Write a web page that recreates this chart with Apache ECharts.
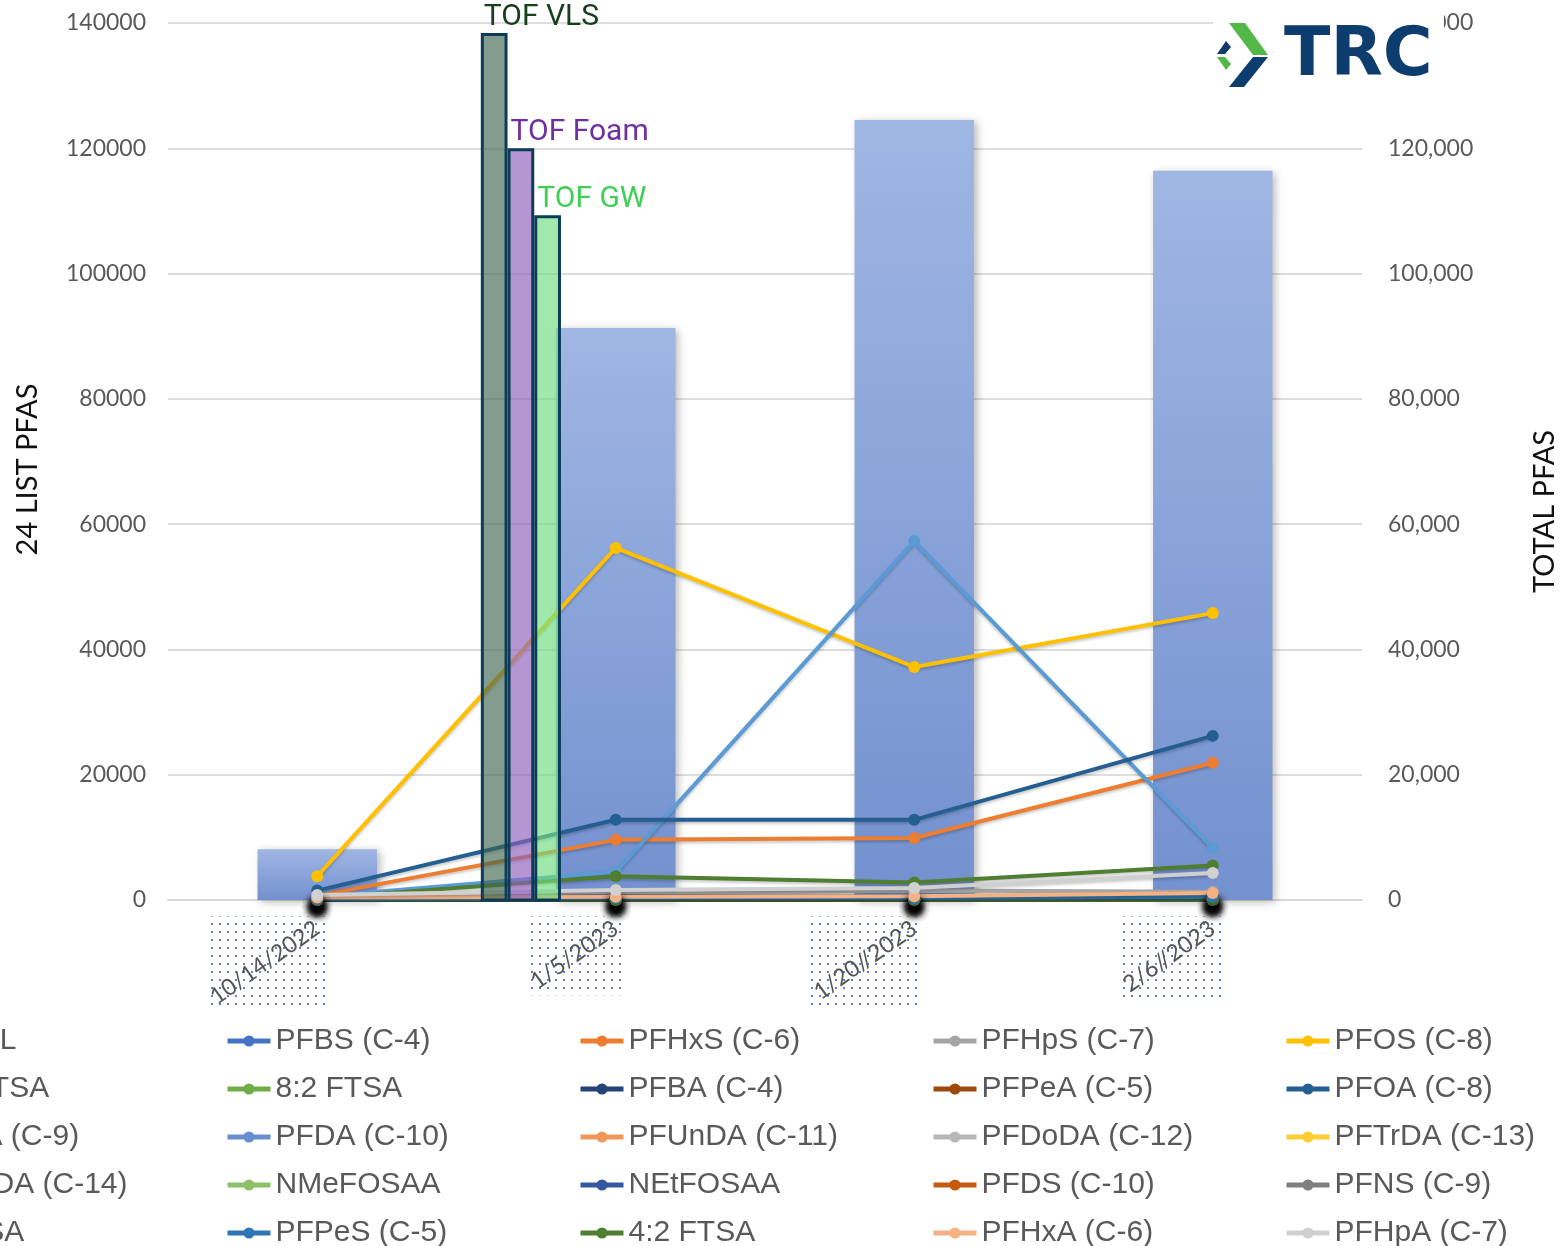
<!DOCTYPE html>
<html>
<head>
<meta charset="utf-8">
<title>24 LIST PFAS / TOTAL PFAS</title>
<script src="https://cdn.jsdelivr.net/npm/echarts@6/dist/echarts.min.js"></script>
<style>
  html, body { margin: 0; padding: 0; background: #ffffff; }
  #chart { width: 1562px; height: 1246px; }
</style>
</head>
<body>
<div id="chart"></div>
<script>
// ---- sampling dates ----
const dates = ['10/14/2022', '1/5/2023', '1/20//2023', '2/6//2023'];

// ---- TOTAL PFAS (bars, right axis) ----
const totalPfas = [8100, 91300, 124500, 116400];

// ---- 24 list PFAS (lines, left axis) ----
const pfbs     = [150, 500, 400, 800];
const pfhxs    = [700, 9600, 9900, 21900];
const pfhps    = [100, 900, 1500, 1300];
const pfos     = [3800, 56200, 37200, 45800];
const ftsa62   = [500, 4500, 57300, 8300];
const ftsa82   = [0, 150, 100, 150];
const pfba     = [150, 600, 500, 900];
const pfpea    = [100, 400, 300, 600];
const pfoa     = [1500, 12800, 12800, 26200];
const pfna     = [50, 200, 150, 300];
const pfda     = [20, 100, 80, 150];
const pfunda   = [0, 20, 10, 30];
const pfdoda   = [0, 10, 10, 20];
const pftrda   = [0, 0, 0, 10];
const pfteda   = [0, 0, 0, 0];
const nmefosaa = [0, 30, 20, 40];
const netfosaa = [0, 20, 20, 30];
const pfds     = [0, 10, 0, 20];
const pfns     = [0, 0, 0, 10];
const pfosa    = [0, 40, 30, 60];
const pfpes    = [100, 300, 300, 500];
const ftsa42   = [300, 3800, 2800, 5500];
const pfhxa    = [400, 500, 600, 1100];
const pfhpa    = [800, 1600, 1900, 4300];

// ---- TOF measurements ----
const tofNames  = ['TOF VLS', 'TOF Foam', 'TOF GW'];
const tofValues = [138400, 120000, 109300];
const tofDate   = '1/5/2023';

// ---- axis tick values ----
const leftTicks  = [0, 20000, 40000, 60000, 80000, 100000, 120000, 140000];
const rightTicks = [0, 20000, 40000, 60000, 80000, 100000, 120000, 140000];

// series in legend (row) order
const lineSeries = [
  ['PFBS (C-4)', pfbs], ['PFHxS (C-6)', pfhxs], ['PFHpS (C-7)', pfhps], ['PFOS (C-8)', pfos],
  ['6:2 FTSA', ftsa62], ['8:2 FTSA', ftsa82], ['PFBA (C-4)', pfba], ['PFPeA (C-5)', pfpea], ['PFOA (C-8)', pfoa],
  ['PFNA (C-9)', pfna], ['PFDA (C-10)', pfda], ['PFUnDA (C-11)', pfunda], ['PFDoDA (C-12)', pfdoda], ['PFTrDA (C-13)', pftrda],
  ['PFTeDA (C-14)', pfteda], ['NMeFOSAA', nmefosaa], ['NEtFOSAA', netfosaa], ['PFDS (C-10)', pfds], ['PFNS (C-9)', pfns],
  ['PFOSA', pfosa], ['PFPeS (C-5)', pfpes], ['4:2 FTSA', ftsa42], ['PFHxA (C-6)', pfhxa], ['PFHpA (C-7)', pfhpa]
];

const palette = {
  'PFBS (C-4)': '#4472C4', 'PFHxS (C-6)': '#ED7D31', 'PFHpS (C-7)': '#A5A5A5', 'PFOS (C-8)': '#FFC000',
  '6:2 FTSA': '#5B9BD5', '8:2 FTSA': '#70AD47', 'PFBA (C-4)': '#264478', 'PFPeA (C-5)': '#9E480E',
  'PFOA (C-8)': '#255E91', 'PFNA (C-9)': '#636363', 'PFDA (C-10)': '#698ED0', 'PFUnDA (C-11)': '#F1975A',
  'PFDoDA (C-12)': '#B7B7B7', 'PFTrDA (C-13)': '#FFCD33', 'PFTeDA (C-14)': '#997300', 'NMeFOSAA': '#8CC168',
  'NEtFOSAA': '#335AA1', 'PFDS (C-10)': '#C55A11', 'PFNS (C-9)': '#7F7F7F', 'PFOSA': '#43682B',
  'PFPeS (C-5)': '#2E75B6', '4:2 FTSA': '#4F7E31', 'PFHxA (C-6)': '#F4B183', 'PFHpA (C-7)': '#D0D0D0'
};

const legendColumns = [
  ['TOTAL', '6:2 FTSA', 'PFNA (C-9)', 'PFTeDA (C-14)', 'PFOSA'],
  ['PFBS (C-4)', '8:2 FTSA', 'PFDA (C-10)', 'NMeFOSAA', 'PFPeS (C-5)'],
  ['PFHxS (C-6)', 'PFBA (C-4)', 'PFUnDA (C-11)', 'NEtFOSAA', '4:2 FTSA'],
  ['PFHpS (C-7)', 'PFPeA (C-5)', 'PFDoDA (C-12)', 'PFDS (C-10)', 'PFHxA (C-6)'],
  ['PFOS (C-8)', 'PFOA (C-8)', 'PFTrDA (C-13)', 'PFNS (C-9)', 'PFHpA (C-7)']
];

// ---- styling constants ----
const GRID = { left: 168, right: 200, top: 23, bottom: 346, outerBoundsMode: 'none', containLabel: false };
const LABEL_FONT = 'Lato';
const X_LABEL_SIZE = 23;
const X_LABEL_ROTATE = 35;
const X_LABEL_MARGIN = 26;
const tofFills = ['rgba(62,100,76,0.64)', 'rgba(142,96,186,0.66)', 'rgba(112,222,126,0.66)'];
const tofTextColors = ['#17401C', '#7030A0', '#3FCF55'];

// dotted fill used behind the date labels
function dotPattern() {
  const c = document.createElement('canvas');
  c.width = 8; c.height = 8;
  const g = c.getContext('2d');
  g.fillStyle = '#5A80D0';
  g.fillRect(3, 3, 2, 2);
  return c;
}
const dots = dotPattern();

const measureCtx = document.createElement('canvas').getContext('2d');
function textWidth(s, font) {
  measureCtx.font = font;
  return measureCtx.measureText(s).width;
}

const chart = echarts.init(document.getElementById('chart'), null, { renderer: 'canvas' });

const series = [];

// TOTAL PFAS columns
series.push({
  name: 'TOTAL',
  type: 'bar',
  yAxisIndex: 1,
  barWidth: '40%',
  data: totalPfas,
  z: 2,
  itemStyle: {
    color: new echarts.graphic.LinearGradient(0, 0, 0, 1, [
      { offset: 0, color: '#A0B6E3' },
      { offset: 1, color: '#7391CF' }
    ]),
    shadowColor: 'rgba(0,0,0,0.28)',
    shadowBlur: 8,
    shadowOffsetX: 3,
    shadowOffsetY: 2
  }
});

// dotted boxes behind the rotated date labels
series.push({
  name: 'dateBoxes',
  type: 'custom',
  yAxisIndex: 0,
  clip: false,
  silent: true,
  z: 0,
  data: dates.map(d => [d, 0]),
  renderItem: function (params, api) {
    const i = params.dataIndex;
    const p = api.coord([api.value(0), 0]);
    const L = textWidth(dates[i], X_LABEL_SIZE + 'px ' + LABEL_FONT);
    const h = X_LABEL_SIZE;
    const t = X_LABEL_ROTATE * Math.PI / 180;
    const ax = p[0], ay = p[1] + X_LABEL_MARGIN;
    const right = ax + (h / 2) * Math.sin(t) + 2;
    const top = ay - (h / 2) * Math.cos(t);
    const w = L * Math.cos(t) + h * Math.sin(t) + 2;
    const hh = L * Math.sin(t) + h * Math.cos(t) + 2;
    return {
      type: 'rect',
      shape: { x: right - w, y: top, width: w, height: hh },
      style: { fill: { image: dots, repeat: 'repeat' } }
    };
  }
});

// 24-list lines
lineSeries.forEach(([name, values]) => {
  const low = Math.max.apply(null, values) < 500;
  series.push({
    name: name,
    type: 'line',
    yAxisIndex: 0,
    data: values,
    z: 3,
    symbol: 'circle',
    symbolSize: 12,
    showSymbol: true,
    color: palette[name],
    lineStyle: {
      width: 4,
      color: palette[name],
      shadowColor: 'rgba(0,0,0,0.22)',
      shadowBlur: 3,
      shadowOffsetY: 2
    },
    itemStyle: low ? {
      color: palette[name],
      shadowColor: 'rgba(0,0,0,0.6)',
      shadowBlur: 8,
      shadowOffsetY: 7
    } : { color: palette[name] }
  });
});

// TOF columns with their labels
series.push({
  name: 'TOF',
  type: 'custom',
  yAxisIndex: 0,
  clip: false,
  z: 6,
  data: tofValues.map(v => [tofDate, v]),
  renderItem: function (params, api) {
    const i = params.dataIndex;
    const cat = api.value(0);
    const top = api.coord([cat, api.value(1)]);
    const base = api.coord([cat, 0]);
    const band = api.size([1, 0])[0];
    const w = band * 0.0895;
    const left = base[0] - band * 0.452 + i * w;
    return {
      type: 'group',
      children: [
        {
          type: 'rect',
          shape: { x: left + 1.5, y: top[1] + 1.5, width: w - 3, height: base[1] - top[1] - 1.5 },
          style: { fill: tofFills[i], stroke: '#0C3D58', lineWidth: 3 }
        },
        {
          type: 'text',
          style: {
            x: left + 3,
            y: top[1] - 16,
            text: tofNames[i],
            fill: tofTextColors[i],
            font: '30px Roboto',
            align: 'left',
            verticalAlign: 'middle'
          }
        }
      ]
    };
  }
});

const legends = legendColumns.map((col, k) => ({
  orient: 'vertical',
  left: -128 + k * 353,
  top: 1023,
  height: 300,
  padding: 0,
  itemWidth: 43,
  itemHeight: 14,
  itemGap: 12,
  selectedMode: false,
  data: col,
  itemStyle: { shadowBlur: 0, shadowColor: 'rgba(0,0,0,0)' },
  lineStyle: { width: 5, shadowBlur: 0, shadowColor: 'rgba(0,0,0,0)' },
  textStyle: { fontFamily: 'Liberation Sans', fontSize: 30, color: '#595959', lineHeight: 36 }
}));

const logoZ = 100;
const option = {
  animation: false,
  backgroundColor: '#ffffff',
  grid: GRID,
  legend: legends,
  xAxis: {
    type: 'category',
    data: dates,
    axisTick: { show: false },
    axisLine: { lineStyle: { color: '#D9D9D9', width: 2 } },
    axisLabel: {
      rotate: X_LABEL_ROTATE,
      margin: X_LABEL_MARGIN,
      fontFamily: LABEL_FONT,
      fontSize: X_LABEL_SIZE,
      color: '#555555'
    }
  },
  yAxis: [
    {
      type: 'value',
      min: leftTicks[0],
      max: leftTicks[leftTicks.length - 1],
      interval: leftTicks[1] - leftTicks[0],
      name: '24 LIST PFAS',
      nameLocation: 'middle',
      nameRotate: 90,
      nameGap: 126,
      nameTextStyle: { fontFamily: LABEL_FONT, fontSize: 29, color: '#111111', padding: [0, 16, 0, 0] },
      axisLine: { show: false },
      axisTick: { show: false },
      axisLabel: {
        margin: 22,
        fontFamily: LABEL_FONT,
        fontSize: 23,
        color: '#595959',
        formatter: v => String(v)
      },
      splitLine: { lineStyle: { color: '#DDDDDD', width: 2 } }
    },
    {
      type: 'value',
      position: 'right',
      min: rightTicks[0],
      max: rightTicks[rightTicks.length - 1],
      interval: rightTicks[1] - rightTicks[0],
      name: 'TOTAL PFAS',
      nameLocation: 'middle',
      nameRotate: 90,
      nameGap: 168,
      nameTextStyle: { fontFamily: LABEL_FONT, fontSize: 29, color: '#111111', padding: [0, 100, 0, 0] },
      axisLine: { show: false },
      axisTick: { show: false },
      splitLine: { show: false },
      axisLabel: {
        margin: 26,
        fontFamily: LABEL_FONT,
        fontSize: 23,
        color: '#595959',
        formatter: v => v.toLocaleString('en-US')
      }
    }
  ],
  graphic: [
    // white plate with the company mark in the top-right corner
    { type: 'rect', z: logoZ, shape: { x: 1213, y: 0, width: 231, height: 108 }, style: { fill: '#ffffff' } },
    { type: 'polygon', z: logoZ + 1, shape: { points: [[1229, 23], [1245, 23], [1268, 55], [1253, 55]] }, style: { fill: '#52B848' } },
    { type: 'polygon', z: logoZ + 1, shape: { points: [[1253, 57], [1268, 57], [1244, 87], [1229, 87]] }, style: { fill: '#0D3D6E' } },
    { type: 'polygon', z: logoZ + 1, shape: { points: [[1217, 54], [1226, 41], [1231, 47], [1225, 54]] }, style: { fill: '#0D3D6E' } },
    { type: 'polygon', z: logoZ + 1, shape: { points: [[1217, 57], [1225, 57], [1231, 64], [1226, 70]] }, style: { fill: '#52B848' } },
    {
      type: 'text', z: logoZ + 1,
      style: {
        x: 1284, y: 57, text: 'TRC', fill: '#0D3D6E',
        font: 'bold 68px "DejaVu Sans"', verticalAlign: 'middle', align: 'left'
      }
    }
  ],
  series: series
};

chart.setOption(option);
</script>
</body>
</html>
